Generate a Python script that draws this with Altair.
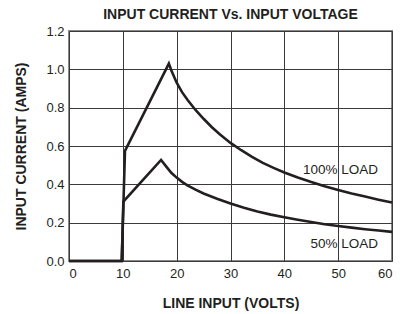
import altair as alt
import pandas as pd

# 100% load curve
v100 = [0, 9.8, 10.4, 18.55, 19, 20, 21, 22, 23.5, 25, 26.5, 28, 30, 32, 34, 36, 38, 40,
        42.5, 45, 47.5, 50, 52.5, 55, 57.5, 60]
i100 = [0, 0, 0.575, 1.03, 0.995, 0.93, 0.881, 0.841, 0.788, 0.742, 0.699, 0.661, 0.616, 0.578,
        0.543, 0.512, 0.486, 0.462, 0.436, 0.412, 0.39, 0.37, 0.352, 0.336, 0.32, 0.305]
# 50% load curve
v50 = [0, 9.8, 10.1, 17.1, 18, 19, 20, 21, 22, 23.5, 25, 27.5, 30, 32.5, 35, 37.5, 40,
       42.5, 45, 47.5, 50, 52.5, 55, 57.5, 60]
i50 = [0, 0, 0.31, 0.527, 0.495, 0.46, 0.435, 0.413, 0.395, 0.372, 0.352, 0.325, 0.30,
       0.278, 0.258, 0.242, 0.228, 0.215, 0.203, 0.192, 0.183, 0.174, 0.166, 0.159, 0.152]

label_text = ["100% LOAD", "50% LOAD"]
label_v = [57.4, 57.4]
label_i = [0.455, 0.068]

x_ticks = [0, 10, 20, 30, 40, 50, 60]
y_ticks = [0, 0.2, 0.4, 0.6, 0.8, 1.0, 1.2]

df = pd.concat([
    pd.DataFrame({"v": v100, "i": i100, "s": "100"}),
    pd.DataFrame({"v": v50, "i": i50, "s": "50"}),
])
lab = pd.DataFrame({"t": label_text, "v": label_v, "i": label_i})

FONT = "Liberation Sans"

x = alt.X("v:Q", scale=alt.Scale(domain=[0, 60], nice=False),
          axis=alt.Axis(title="LINE INPUT (VOLTS)", values=x_ticks, labelOverlap=False,
                        format="d", titlePadding=16))
y = alt.Y("i:Q", scale=alt.Scale(domain=[0, 1.2], nice=False),
          axis=alt.Axis(title="INPUT CURRENT (AMPS)", values=y_ticks, labelOverlap=False,
                        format=".1f", titlePadding=17))

lines = alt.Chart(df).mark_line(color="#231f20", strokeWidth=2.6).encode(
    x=x, y=y, detail="s:N", order=alt.Order("v:Q"))

texts = alt.Chart(lab).mark_text(align="right", baseline="alphabetic", font=FONT,
                                 fontSize=13.5, color="#231f20").encode(
    x=x, y=y, text="t:N")

chart = alt.layer(lines, texts).properties(
    width=323, height=230,
    title=alt.TitleParams("INPUT CURRENT Vs. INPUT VOLTAGE", font=FONT, fontSize=14,
                          fontWeight="bold", color="#231f20", anchor="middle", offset=3),
    autosize=alt.AutoSizeParams(type="none"),
    padding={"left": 61, "top": 23, "right": 3, "bottom": 53},
).configure_view(stroke="#8a8a8a", strokeWidth=2).configure_axis(
    domain=False, ticks=False, grid=True, gridColor="#3a3a3a", gridWidth=1, gridOpacity=1,
    labelFont=FONT, labelFontSize=13, labelColor="#231f20", labelPadding=5,
    titleFont=FONT, titleFontSize=14, titleFontWeight="bold", titleColor="#231f20",
).configure_axisX(labelPadding=6)

chart.save("out.html", embed_options={"renderer": "svg", "actions": False})
